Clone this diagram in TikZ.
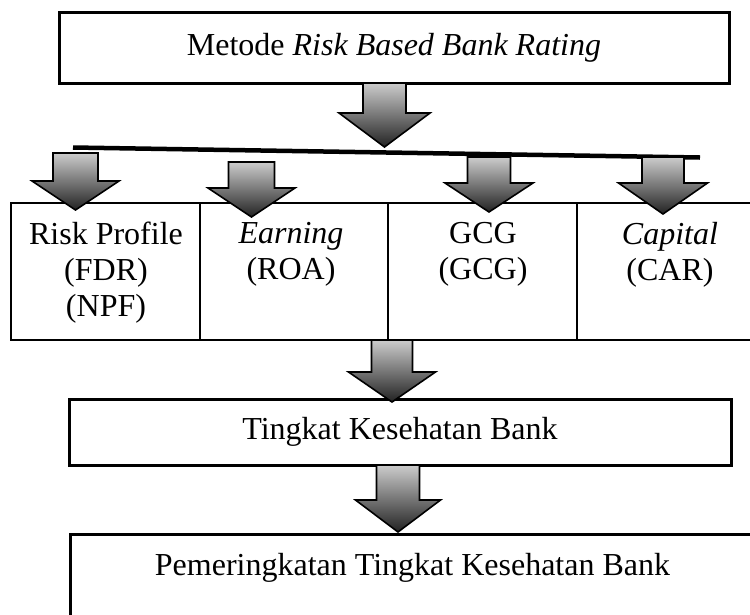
\documentclass[tikz,border=0pt]{standalone}
\usepackage{fontspec}
\setmainfont{Liberation Serif}
\definecolor{arrowtop}{RGB}{204,204,204}
\definecolor{arrowbot}{RGB}{34,34,34}
\tikzset{
  frame/.style={draw=black, line width=3pt, inner sep=0pt},
  cell/.style={draw=black, line width=2pt, inner sep=0pt},
  celltext/.style={anchor=north, inner sep=0pt, align=center},
  boxtext/.style={inner sep=0pt},
  blockarrow/.style={draw=black, line width=1.6pt, line join=miter,
    top color=arrowtop, bottom color=arrowbot},
  bar/.style={line width=4.5pt}
}
% block arrow: centre x, top y, neck y, tip y, shaft half width, head half width
\newcommand\blockarr[6]{%
  \path[blockarrow] ({#1-#5},#2) -- ({#1+#5},#2) -- ({#1+#5},#3) -- ({#1+#6},#3)
    -- (#1,#4) -- ({#1-#6},#3) -- ({#1-#5},#3) -- cycle;}
\begin{document}
\begin{tikzpicture}[x=1pt, y=-1pt, font=\fontsize{32}{36}\selectfont]
\useasboundingbox (0,0) rectangle (750,614);
\clip (0,0) rectangle (750,614);

% header box
\node[frame, minimum width=670pt, minimum height=71pt] (method) at (394,47.5) {};
\node[boxtext] (methodtxt) at (method.center) {Metode \textit{Risk Based Bank Rating}};

% bar that splits into the four aspects
\coordinate (barL) at (73,147.5);
\coordinate (barR) at (700,157.5);
\draw[bar] (barL) -- (barR);

% four aspect cells
\node[cell, anchor=north west, minimum width=189pt, minimum height=137pt] (risk) at (10,202) {};
\node[cell, anchor=north west, minimum width=188pt, minimum height=137pt] (earn) at (199,202) {};
\node[cell, anchor=north west, minimum width=189pt, minimum height=137pt] (gcg) at (387,202) {};
\node[cell, anchor=north west, minimum width=190pt, minimum height=137pt] (cap) at (576,202) {};

\node[celltext] (risktxt) at (106,222) {Risk Profile\\(FDR)\\(NPF)};
\node[celltext] (earntxt) at (291,222) {\textit{Earning}\\(ROA)};
\node[celltext] (gcgtxt) at (483,222) {GCG\\(GCG)};
\node[celltext] (captxt) at (670,222) {\textit{Capital}\\(CAR)};

% result boxes
\node[frame, minimum width=662pt, minimum height=66pt] (health) at (400,432) {};
\node[boxtext] (healthtxt) at (health.center) {Tingkat Kesehatan Bank};

\node[frame, anchor=north west, minimum width=688pt, minimum height=110pt] (rank) at (69,533) {};
\node[boxtext, anchor=base] (ranktxt) at (412.5,575) {Pemeringkatan Tingkat Kesehatan Bank};

% block arrows
\blockarr{384.5}{83}{113}{147}{21.5}{45.5}
\blockarr{75.5}{153}{181}{210}{22.5}{43.5}
\blockarr{251.5}{162}{188}{217}{23}{43.5}
\blockarr{489}{157}{183}{212}{21.5}{44}
\blockarr{663}{157}{183}{214}{21}{44.5}
\blockarr{392}{340}{372}{402}{20.5}{43.5}
\blockarr{398}{465}{500}{532}{21.5}{42.5}
\end{tikzpicture}
\end{document}
